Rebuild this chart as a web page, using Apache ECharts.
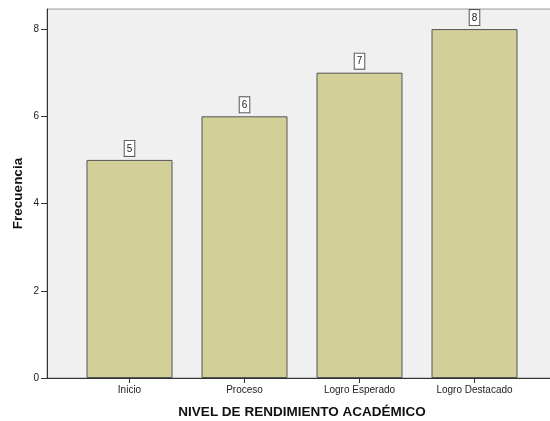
<!DOCTYPE html>
<html><head><meta charset="utf-8">
<script src="https://cdn.jsdelivr.net/npm/echarts@6/dist/echarts.min.js"></script>
<style>html,body{margin:0;padding:0;background:#fff}#c{width:550px;height:421px}</style>
</head><body><div id="c"></div>
<script>
const categories = ['Inicio', 'Proceso', 'Logro Esperado', 'Logro Destacado'];
const frecuencia = [5, 6, 7, 8];
const yTicks = [0, 2, 4, 6, 8];
const yMax = 8.46;

const chart = echarts.init(document.getElementById('c'), null, {renderer: 'canvas'});
chart.setOption({
  animation: false,
  backgroundColor: '#ffffff',
  grid: [
    {left: 47, right: -12, top: 9, bottom: 43, outerBoundsMode: 'none', containLabel: false, show: true, backgroundColor: '#F0F0F0', borderColor: '#9a9a9a', borderWidth: 1},
    {left: 72, right: 18, top: 9, bottom: 43, outerBoundsMode: 'none', containLabel: false}
  ],
  xAxis: [
    {gridIndex: 0, type: 'value', min: 0, max: 1,
     axisLine: {show: true, lineStyle: {color: '#333', width: 1}},
     axisTick: {show: false}, axisLabel: {show: false}, splitLine: {show: false}},
    {gridIndex: 1, type: 'category', data: categories,
     axisLine: {show: false},
     axisTick: {show: true, alignWithLabel: true, length: 5, lineStyle: {color: '#333'}},
     axisLabel: {color: '#222', fontSize: 10, fontFamily: 'Liberation Sans, Arial, sans-serif', margin: 7},
     name: 'NIVEL DE RENDIMIENTO ACADÉMICO', nameLocation: 'middle', nameGap: 27,
     nameTextStyle: {color: '#111', fontSize: 13.5, fontWeight: 'bold', fontFamily: 'Liberation Sans, Arial, sans-serif'}}
  ],
  yAxis: [
    {gridIndex: 0, type: 'value', min: 0, max: yMax,
     axisLine: {show: true, lineStyle: {color: '#333', width: 1}},
     axisTick: {show: true, length: 6, customValues: yTicks, lineStyle: {color: '#333'}},
     axisLabel: {customValues: yTicks, color: '#222', fontSize: 10, margin: 8, fontFamily: 'Liberation Sans, Arial, sans-serif'},
     splitLine: {show: false},
     name: 'Frecuencia', nameLocation: 'middle', nameGap: 22, nameRotate: 90, nameMoveOverlap: false,
     nameTextStyle: {color: '#111', fontSize: 13.5, fontWeight: 'bold', fontFamily: 'Liberation Sans, Arial, sans-serif'}},
    {gridIndex: 1, type: 'value', min: 0, max: yMax, show: false, splitLine: {show: false}}
  ],
  series: [{
    type: 'bar', xAxisIndex: 1, yAxisIndex: 1, data: frecuencia, barWidth: 86,
    itemStyle: {color: '#D3CF98', borderColor: '#555', borderWidth: 1},
    label: {show: true, position: 'top', distance: 4, color: '#222', fontSize: 10,
      fontFamily: 'Liberation Sans, Arial, sans-serif',
      backgroundColor: '#fff', borderColor: '#555', borderWidth: 1, padding: [3, 2, 2, 2]}
  }]
});
</script></body></html>
